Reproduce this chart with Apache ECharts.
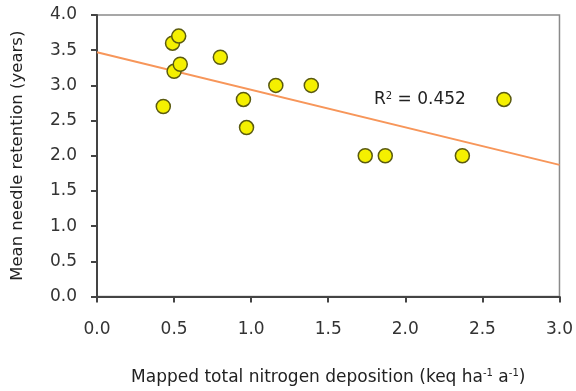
<!DOCTYPE html>
<html>
<head>
<meta charset="utf-8">
<script src="https://cdn.jsdelivr.net/npm/echarts@6/dist/echarts.min.js"></script>
<style>
  html, body { margin: 0; padding: 0; background: #fff; }
  #main { width: 576px; height: 391px; }
</style>
</head>
<body>
<div id="main"></div>
<script>
// deposition (keq/ha/a) vs needle retention (years)
var depX = [0.43, 0.49, 0.53, 0.50, 0.54, 0.80, 0.95, 0.97, 1.16, 1.39, 1.74, 1.87, 2.37, 2.64];
var retY = [2.7, 3.6, 3.7, 3.2, 3.3, 3.4, 2.8, 2.4, 3.0, 3.0, 2.0, 2.0, 2.0, 2.8];

// fitted line ends
var fitX = [0, 3];
var fitY = [3.47, 1.87];

var xTicks = ['0.0', '0.5', '1.0', '1.5', '2.0', '2.5', '3.0'];
var yTicks = ['0.0', '0.5', '1.0', '1.5', '2.0', '2.5', '3.0', '3.5', '4.0'];

var points = depX.map(function (x, i) { return [x, retY[i]]; });
var fitLine = fitX.map(function (x, i) { return [x, fitY[i]]; });

var font = 'DejaVu Sans, sans-serif';
var chart = echarts.init(document.getElementById('main'));

chart.setOption({
  animation: false,
  backgroundColor: '#fff',
  grid: {
    left: 97, right: 16, top: 15, bottom: 91,
    show: true,
    borderColor: '#8a8a8a',
    borderWidth: 1.5
  },
  xAxis: {
    type: 'value',
    min: 0, max: 3, interval: 0.5,
    name: '{t|Mapped total nitrogen deposition (keq ha}{s|-1}{t| a}{s|-1}{t|)}',
    nameLocation: 'middle',
    nameGap: 72,
    nameTextStyle: {
      rich: {
        t: { fontFamily: font, fontSize: 17, color: '#222' },
        s: { fontFamily: font, fontSize: 10, color: '#222', verticalAlign: 'top', padding: [0, 0, 8, 0] }
      }
    },
    axisLine: { onZero: false, lineStyle: { color: '#444', width: 2 } },
    axisTick: { show: true, length: 6, lineStyle: { color: '#444', width: 2 } },
    axisLabel: {
      margin: 25, fontFamily: font, fontSize: 17, color: '#333',
      formatter: function (v) { return xTicks[Math.round(v / 0.5)]; }
    },
    splitLine: { show: false }
  },
  yAxis: {
    type: 'value',
    min: 0, max: 4, interval: 0.5,
    name: 'Mean needle retention (years)',
    nameLocation: 'middle',
    nameGap: 71,
    nameTextStyle: { fontFamily: font, fontSize: 16.5, color: '#222' },
    axisLine: { onZero: false, lineStyle: { color: '#444', width: 2 } },
    axisTick: { show: true, length: 6, lineStyle: { color: '#444', width: 2 } },
    axisLabel: {
      margin: 20, fontFamily: font, fontSize: 17, color: '#333',
      formatter: function (v) { return yTicks[Math.round(v / 0.5)]; }
    },
    splitLine: { show: false }
  },
  series: [
    {
      type: 'line',
      data: fitLine,
      symbol: 'none',
      lineStyle: { color: '#f7965a', width: 2 },
      z: 2
    },
    {
      type: 'scatter',
      data: points,
      symbolSize: 14,
      itemStyle: { color: '#f5f000', borderColor: '#5a5a10', borderWidth: 1.5, opacity: 1 },
      z: 3
    }
  ],
  graphic: [{
    type: 'text',
    left: 374,
    top: 91,
    style: {
      text: '{t|R}{s|2}{t| = 0.452}',
      rich: {
        t: { fontFamily: font, fontSize: 17, fill: '#222' },
        s: { fontFamily: font, fontSize: 10, fill: '#222', verticalAlign: 'top', padding: [0, 0, 8, 0] }
      }
    }
  }]
});
</script>
</body>
</html>
